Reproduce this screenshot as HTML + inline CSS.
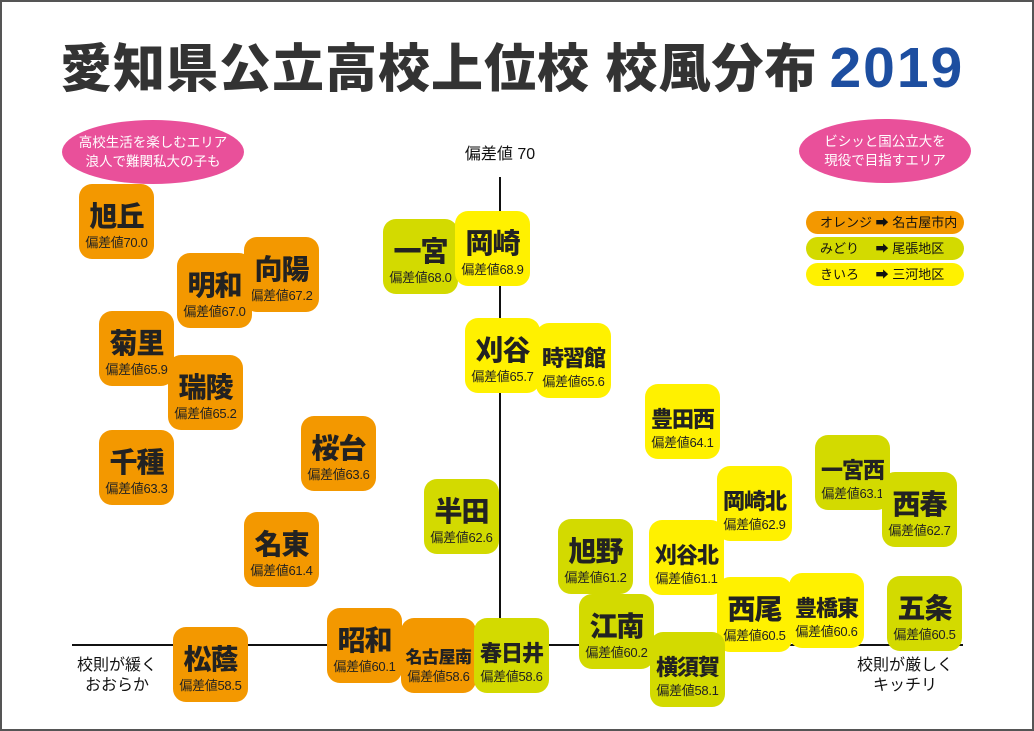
<!DOCTYPE html>
<html><head><meta charset="utf-8"><style>
*{margin:0;padding:0;box-sizing:border-box}
body{width:1034px;height:731px;background:#fff;position:relative;overflow:hidden;font-family:"Liberation Sans","Noto Sans CJK JP",sans-serif}
.frame{position:absolute;left:0;top:0;width:1034px;height:731px;border:2px solid #555}
.t{position:absolute;left:60px;top:33px;font-size:52px;line-height:70px;font-weight:900;color:#333;white-space:nowrap;letter-spacing:1px}
.t b{color:#1d4ea0;font-weight:900;margin-left:12px;letter-spacing:2px;font-size:57px;font-family:"Liberation Sans",sans-serif}
.ell{position:absolute;background:#e9509a;border-radius:50%;color:#fff;font-size:13.5px;line-height:19px;text-align:center;display:flex;align-items:center;justify-content:center}
.pill{position:absolute;left:806px;width:158px;height:23px;border-radius:12px;font-size:13px;line-height:23px;padding-left:14px;color:#111;white-space:pre}
.b{position:absolute;width:75px;height:75px;border-radius:13px;text-align:center;color:#222}
.b .n{position:absolute;left:0;right:0;top:17px;font-size:28px;font-weight:900;line-height:32px;white-space:nowrap;letter-spacing:-1px}
.b .n.m{font-size:22px;top:20px}
.b .n.l{font-size:17px;top:24px;letter-spacing:-0.5px}
.b .s{position:absolute;left:0;right:0;top:51px;font-size:13px;line-height:15px;white-space:nowrap;letter-spacing:-0.3px}
.o{background:#f39800}.g{background:#d3da00}.y{background:#fff100}
.ax{position:absolute;background:#111}
.lbl{position:absolute;font-size:16px;line-height:20px;text-align:center;color:#111;white-space:nowrap}
</style></head><body>
<div class="frame"></div>
<div class="t">愛知県公立高校上位校 校風分布<b>2019</b></div>
<div class="ell" style="left:62px;top:120px;width:182px;height:64px">高校生活を楽しむエリア<br>浪人で難関私大の子も</div>
<div class="ell" style="left:799px;top:119px;width:172px;height:64px">ビシッと国公立大を<br>現役で目指すエリア</div>
<div class="pill o" style="top:211px">オレンジ ➡ 名古屋市内</div>
<div class="pill g" style="top:237px">みどり　 ➡ 尾張地区</div>
<div class="pill y" style="top:263px">きいろ　 ➡ 三河地区</div>
<div class="lbl" style="left:450px;top:145px;width:100px">偏差値 70</div>
<div class="ax" style="left:499px;top:177px;width:2px;height:470px"></div>
<div class="ax" style="left:72px;top:644px;width:891px;height:2px"></div>
<div class="lbl" style="left:57px;top:656px;width:120px">校則が緩く<br>おおらか</div>
<div class="lbl" style="left:845px;top:656px;width:120px">校則が厳しく<br>キッチリ</div>

<div class="b o" style="left:79px;top:184px"><div class="n">旭丘</div><div class="s">偏差値70.0</div></div>
<div class="b o" style="left:244px;top:237px"><div class="n">向陽</div><div class="s">偏差値67.2</div></div>
<div class="b o" style="left:177px;top:253px"><div class="n">明和</div><div class="s">偏差値67.0</div></div>
<div class="b o" style="left:99px;top:311px"><div class="n">菊里</div><div class="s">偏差値65.9</div></div>
<div class="b o" style="left:168px;top:355px"><div class="n">瑞陵</div><div class="s">偏差値65.2</div></div>
<div class="b o" style="left:99px;top:430px"><div class="n">千種</div><div class="s">偏差値63.3</div></div>
<div class="b o" style="left:301px;top:416px"><div class="n">桜台</div><div class="s">偏差値63.6</div></div>
<div class="b o" style="left:244px;top:512px"><div class="n">名東</div><div class="s">偏差値61.4</div></div>
<div class="b o" style="left:173px;top:627px"><div class="n">松蔭</div><div class="s">偏差値58.5</div></div>
<div class="b o" style="left:327px;top:608px"><div class="n">昭和</div><div class="s">偏差値60.1</div></div>
<div class="b o" style="left:401px;top:618px"><div class="n l">名古屋南</div><div class="s">偏差値58.6</div></div>
<div class="b g" style="left:474px;top:618px"><div class="n m">春日井</div><div class="s">偏差値58.6</div></div>
<div class="b g" style="left:383px;top:219px"><div class="n">一宮</div><div class="s">偏差値68.0</div></div>
<div class="b y" style="left:455px;top:211px"><div class="n">岡崎</div><div class="s">偏差値68.9</div></div>
<div class="b y" style="left:465px;top:318px"><div class="n">刈谷</div><div class="s">偏差値65.7</div></div>
<div class="b y" style="left:536px;top:323px"><div class="n m">時習館</div><div class="s">偏差値65.6</div></div>
<div class="b g" style="left:424px;top:479px"><div class="n">半田</div><div class="s">偏差値62.6</div></div>
<div class="b y" style="left:645px;top:384px"><div class="n m">豊田西</div><div class="s">偏差値64.1</div></div>
<div class="b g" style="left:558px;top:519px"><div class="n">旭野</div><div class="s">偏差値61.2</div></div>
<div class="b y" style="left:649px;top:520px"><div class="n m">刈谷北</div><div class="s">偏差値61.1</div></div>
<div class="b y" style="left:717px;top:466px"><div class="n m">岡崎北</div><div class="s">偏差値62.9</div></div>
<div class="b g" style="left:815px;top:435px"><div class="n m">一宮西</div><div class="s">偏差値63.1</div></div>
<div class="b g" style="left:882px;top:472px"><div class="n">西春</div><div class="s">偏差値62.7</div></div>
<div class="b g" style="left:579px;top:594px"><div class="n">江南</div><div class="s">偏差値60.2</div></div>
<div class="b y" style="left:717px;top:577px"><div class="n">西尾</div><div class="s">偏差値60.5</div></div>
<div class="b y" style="left:789px;top:573px"><div class="n m">豊橋東</div><div class="s">偏差値60.6</div></div>
<div class="b g" style="left:650px;top:632px"><div class="n m">横須賀</div><div class="s">偏差値58.1</div></div>
<div class="b g" style="left:887px;top:576px"><div class="n">五条</div><div class="s">偏差値60.5</div></div>
</body></html>
